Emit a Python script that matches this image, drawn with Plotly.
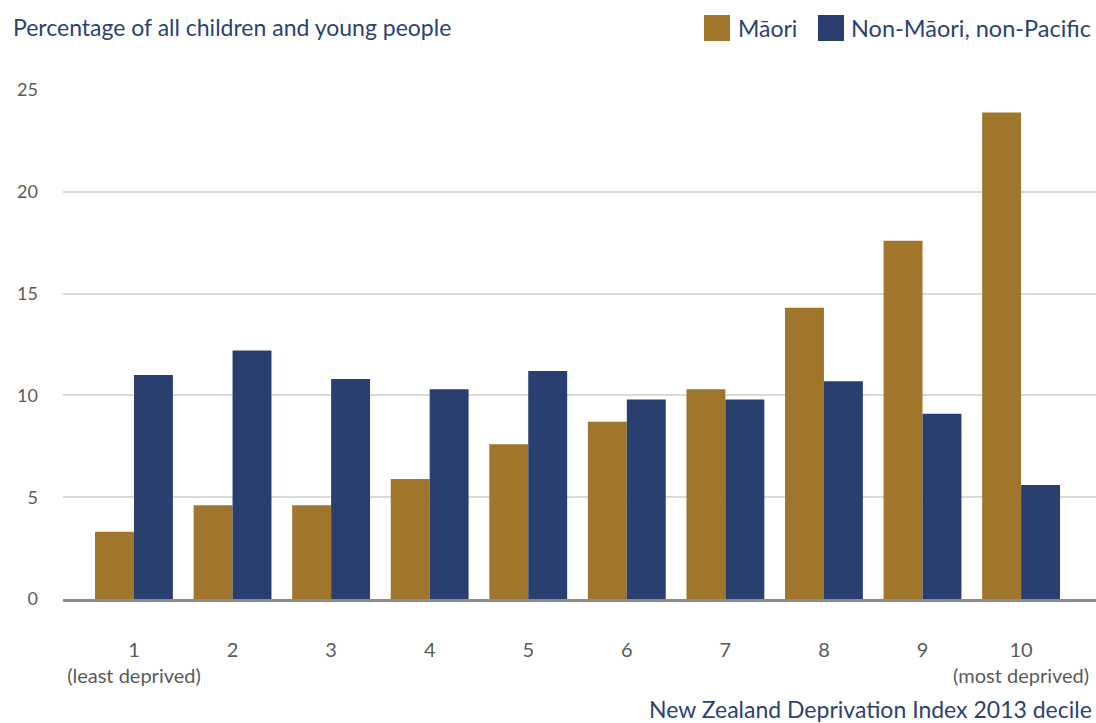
import plotly.graph_objects as go

deciles = [1, 2, 3, 4, 5, 6, 7, 8, 9, 10]
tick_text = ["1<br>(least deprived)", "2", "3", "4", "5", "6", "7", "8", "9", "10<br>(most deprived)"]
maori = [3.3, 4.6, 4.6, 5.9, 7.6, 8.7, 10.3, 14.3, 17.6, 23.9]
non_maori = [11.0, 12.2, 10.8, 10.3, 11.2, 9.8, 9.8, 10.7, 9.1, 5.6]
y_ticks = [0, 5, 10, 15, 20, 25]

GOLD = "#A0762C"
NAVY = "#293F6F"
TEXTBLUE = "#2B4272"
GREY = "#5A5A5A"
FONT = "Lato"

W, H = 1096, 723
L, R, T, B = 63, 0, 90, 124
PW, PH = W - L - R, H - T - B


def px(p):
    return (p - L) / PW


def py(p):
    return (H - B - p) / PH


fig = go.Figure()
fig.add_trace(go.Bar(x=deciles, y=maori, name="Māori", marker=dict(color=GOLD, line=dict(width=0))))
fig.add_trace(go.Bar(x=deciles, y=non_maori, name="Non-Māori, non-Pacific", marker=dict(color=NAVY, line=dict(width=0))))

fig.update_layout(
    width=W, height=H,
    margin=dict(l=L, r=R, t=T, b=B, pad=0),
    paper_bgcolor="white", plot_bgcolor="white",
    barmode="group", bargap=0.21, bargroupgap=0,
    showlegend=False,
    font=dict(family=FONT, color=GREY, size=18),
    xaxis=dict(
        range=[0.28, 10.76], tickmode="array", tickvals=deciles, ticktext=tick_text,
        showgrid=False, zeroline=False, showline=True, linecolor="#8C8C8C", linewidth=3,
        ticks="", ticklabelstandoff=31, tickfont=dict(family=FONT, size=20, color=GREY),
        fixedrange=True,
    ),
    yaxis=dict(
        range=[0, 25], tickmode="array", tickvals=y_ticks,
        showgrid=True, gridcolor="#DADADA", gridwidth=2, zeroline=False, showline=False,
        ticks="", ticklabelstandoff=24, tickfont=dict(family=FONT, size=18, color=GREY),
        fixedrange=True,
    ),
)

annotations = [
    dict(text="Percentage of all children and young people", x=px(11), y=py(27), xref="paper", yref="paper",
         xanchor="left", yanchor="middle", showarrow=False, font=dict(family=FONT, size=23, color=TEXTBLUE)),
    dict(text="New Zealand Deprivation Index 2013 decile", x=px(1094), y=py(709), xref="paper", yref="paper",
         xanchor="right", yanchor="middle", showarrow=False, font=dict(family=FONT, size=23, color=TEXTBLUE)),
    dict(text="Māori", x=px(736), y=py(28), xref="paper", yref="paper",
         xanchor="left", yanchor="middle", showarrow=False, font=dict(family=FONT, size=23, color=TEXTBLUE)),
    dict(text="Non-Māori, non-Pacific", x=px(849), y=py(28), xref="paper", yref="paper",
         xanchor="left", yanchor="middle", showarrow=False, font=dict(family=FONT, size=23.5, color=TEXTBLUE)),
]
shapes = [
    dict(type="rect", xref="paper", yref="paper", x0=px(704), x1=px(730), y0=py(41), y1=py(15),
         fillcolor=GOLD, line=dict(width=0)),
    dict(type="rect", xref="paper", yref="paper", x0=px(818), x1=px(844), y0=py(41), y1=py(15),
         fillcolor=NAVY, line=dict(width=0)),
]
fig.update_layout(annotations=annotations, shapes=shapes)

fig.write_html("out.html", config={"displayModeBar": False})
